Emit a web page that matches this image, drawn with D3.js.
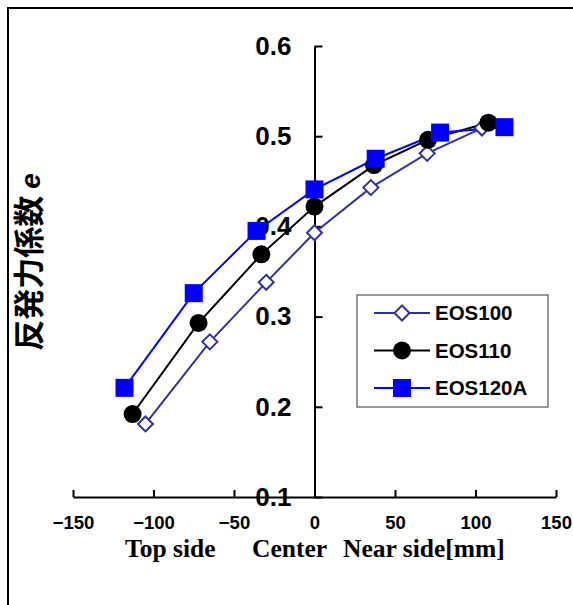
<!DOCTYPE html>
<html>
<head>
<meta charset="utf-8">
<script src="https://cdn.jsdelivr.net/npm/d3@7"></script>
<style>
  body { margin: 0; background: #fff; }
  svg { display: block; }
</style>
</head>
<body>
<div id="chart"></div>
<script>
const W = 573, H = 605;

// position along the plate [mm]
const seriesNames = ['EOS100', 'EOS110', 'EOS120A'];
const xEOS100  = [-105, -65, -30, 0, 35, 70, 104];
const yEOS100  = [0.181, 0.272, 0.338, 0.393, 0.443, 0.481, 0.509];
const xEOS110  = [-113, -72, -33, 0, 37, 70.5, 108];
const yEOS110  = [0.192, 0.293, 0.369, 0.422, 0.468, 0.496, 0.515];
const xEOS120A = [-118, -75, -36, 0, 38, 78, 118];
const yEOS120A = [0.221, 0.326, 0.395, 0.441, 0.475, 0.504, 0.510];

const xTicks = [-150, -100, -50, 0, 50, 100, 150];
const yTicks = [0.1, 0.2, 0.3, 0.4, 0.5, 0.6];

const colors = { EOS100: '#333399', EOS110: '#000000', EOS120A: '#0000ff' };
const markers = { EOS100: 'diamond', EOS110: 'circle', EOS120A: 'square' };

const series = [
  { name: 'EOS100',  pts: xEOS100.map((x, i) => ({ x, y: yEOS100[i] })) },
  { name: 'EOS110',  pts: xEOS110.map((x, i) => ({ x, y: yEOS110[i] })) },
  { name: 'EOS120A', pts: xEOS120A.map((x, i) => ({ x, y: yEOS120A[i] })) }
];

const svg = d3.select('#chart').append('svg')
  .attr('width', W).attr('height', H);

// outer frame
svg.append('rect')
  .attr('x', 8).attr('y', 8)
  .attr('width', 620).attr('height', 640)
  .attr('fill', 'none').attr('stroke', '#000').attr('stroke-width', 2);

const x = d3.scaleLinear().domain([-150, 150]).range([73, 556]);
const y = d3.scaleLinear().domain([0.1, 0.6]).range([497, 46]);

// x axis (ticks pointing up)
const xAxis = svg.append('g')
  .attr('transform', `translate(0,${y(0.1)})`)
  .call(d3.axisBottom(x).tickValues(xTicks).tickSizeInner(-7).tickSizeOuter(0).tickPadding(19)
    .tickFormat(d => d3.format('')(d).replace('-', '\u2212')));
xAxis.select('.domain').attr('stroke-width', 2);
xAxis.selectAll('.tick line').attr('stroke-width', 2);
xAxis.selectAll('text')
  .attr('font-family', 'Liberation Sans, Arial, sans-serif')
  .attr('font-weight', 'bold').attr('font-size', 18.5).attr('fill', '#000');

// y axis at x = 0 (ticks pointing right, labels left)
const yAxis = svg.append('g')
  .attr('transform', `translate(${x(0)},0)`)
  .call(d3.axisLeft(y).tickValues(yTicks).tickSizeInner(-8).tickSizeOuter(0).tickPadding(23)
    .tickFormat(d3.format('.1f')));
yAxis.select('.domain').attr('stroke-width', 2);
yAxis.selectAll('.tick line').attr('stroke-width', 2);
yAxis.selectAll('text')
  .attr('font-family', 'Liberation Sans, Arial, sans-serif')
  .attr('font-weight', 'bold').attr('font-size', 26).attr('fill', '#000');

// lines
const line = d3.line().x(d => x(d.x)).y(d => y(d.y));
series.forEach(s => {
  svg.append('path')
    .datum(s.pts)
    .attr('d', line)
    .attr('fill', 'none')
    .attr('stroke', colors[s.name])
    .attr('stroke-width', 2);
});

function drawMarker(g, type, cx, cy) {
  if (type === 'circle') {
    g.append('circle').attr('cx', cx).attr('cy', cy).attr('r', 9).attr('fill', '#000');
  } else if (type === 'square') {
    g.append('rect').attr('x', cx - 9).attr('y', cy - 9).attr('width', 18).attr('height', 18)
      .attr('fill', '#0000ff');
  } else {
    const r = 7.5;
    g.append('path')
      .attr('d', `M${cx},${cy - r}L${cx + r},${cy}L${cx},${cy + r}L${cx - r},${cy}Z`)
      .attr('fill', '#fff').attr('stroke', '#333399').attr('stroke-width', 2);
  }
}

// markers, drawn per series in order
series.forEach(s => {
  const g = svg.append('g');
  s.pts.forEach(p => drawMarker(g, markers[s.name], x(p.x), y(p.y)));
});

// legend
const lg = svg.append('g').attr('transform', 'translate(357,295)');
lg.append('rect').attr('width', 191).attr('height', 112)
  .attr('fill', '#fff').attr('stroke', '#777').attr('stroke-width', 1.5);
seriesNames.forEach((n, i) => {
  const ry = 18 + i * 37.5;
  lg.append('line').attr('x1', 17).attr('x2', 73).attr('y1', ry).attr('y2', ry)
    .attr('stroke', colors[n]).attr('stroke-width', 2);
  drawMarker(lg, markers[n], 45, ry);
  lg.append('text').attr('x', 78).attr('y', ry).attr('dy', '0.36em')
    .attr('font-family', 'Liberation Sans, Arial, sans-serif')
    .attr('font-weight', 'bold').attr('font-size', 20.5).text(n);
});

// y axis title
const yt = svg.append('text')
  .attr('transform', 'translate(40,262) rotate(-90)')
  .attr('text-anchor', 'middle')
  .attr('font-family', 'Noto Sans CJK JP, sans-serif')
  .attr('font-weight', 'bold').attr('font-size', 31);
yt.append('tspan').text('反発力係数 ');
yt.append('tspan').attr('font-family', 'Liberation Sans, Arial, sans-serif')
  .attr('font-style', 'italic').attr('font-size', 28).text('e');

// x axis title
const xtFont = 'Liberation Serif, Times New Roman, serif';
[['Top side', 125], ['Center', 252], ['Near side[mm]', 343]].forEach(([t, px]) => {
  svg.append('text').attr('x', px).attr('y', 557)
    .attr('font-family', xtFont).attr('font-weight', 'bold').attr('font-size', 25.5)
    .text(t);
});
</script>
</body>
</html>
